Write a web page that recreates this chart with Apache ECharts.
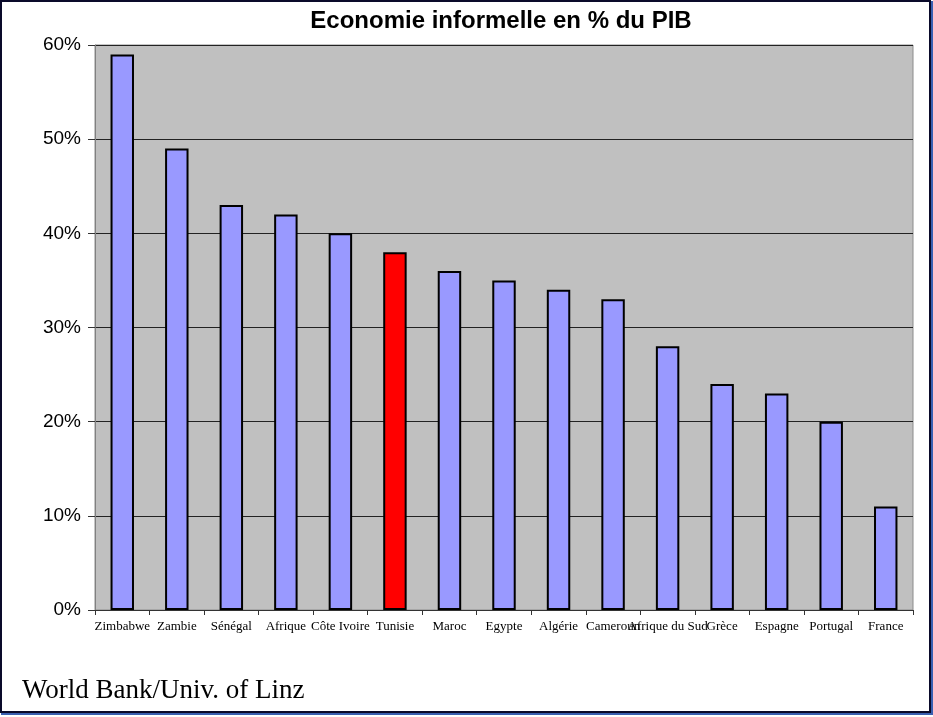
<!DOCTYPE html>
<html>
<head>
<meta charset="utf-8">
<script src="https://cdn.jsdelivr.net/npm/echarts@6/dist/echarts.min.js"></script>
<style>
  html, body { margin: 0; padding: 0; background: #fff; }
  #chart { width: 933px; height: 717px; }
</style>
</head>
<body>
<div id="chart"></div>
<script>
// pays, dans l'ordre du graphique
const countries = ['Zimbabwe', 'Zambie', 'Sénégal', 'Afrique', 'Côte Ivoire', 'Tunisie', 'Maroc',
    'Egypte', 'Algérie', 'Cameroun', 'Afrique du Sud', 'Grèce', 'Espagne', 'Portugal', 'France'];
// économie informelle en % du PIB
const shares = [59, 49, 43, 42, 40, 38, 36, 35, 34, 33, 28, 24, 23, 20, 11];
const highlighted = 'Tunisie';
const yTicks = [0, 10, 20, 30, 40, 50, 60];

let chart = echarts.init(document.getElementById('chart'));

let option = {
    animation: false,
    backgroundColor: '#fff',
    title: {
        text: 'Economie informelle en % du PIB',
        left: 496,
        top: 4,
        textAlign: 'center',
        textStyle: {
            fontFamily: 'Liberation Sans',
            fontWeight: 'bold',
            fontSize: 24,
            color: '#000'
        }
    },
    grid: {
        left: 95,
        right: 20,
        top: 45,
        bottom: 107,
        show: true,
        backgroundColor: '#c0c0c0',
        borderColor: '#8c8c8c',
        borderWidth: 1
    },
    xAxis: {
        type: 'category',
        data: countries,
        axisLine: {lineStyle: {color: '#333', width: 1}},
        axisTick: {show: true, alignWithLabel: false, length: 5, lineStyle: {color: '#333'}},
        axisLabel: {
            interval: 0,
            hideOverlap: false,
            fontFamily: 'Liberation Serif',
            fontSize: 13,
            color: '#000',
            margin: 10
        }
    },
    yAxis: {
        type: 'value',
        min: yTicks[0],
        max: yTicks[yTicks.length - 1],
        interval: 10,
        axisLine: {show: true, lineStyle: {color: '#808080'}},
        axisTick: {show: true, length: 7, lineStyle: {color: '#333'}},
        axisLabel: {
            formatter: '{value}%',
            fontFamily: 'Liberation Sans',
            fontSize: 19,
            color: '#000',
            margin: 14
        },
        splitLine: {lineStyle: {color: '#222', width: 1}}
    },
    series: [{
        type: 'bar',
        barWidth: '43%',
        data: shares.map(function (v, i) {
            return {
                value: v,
                itemStyle: {color: countries[i] === highlighted ? '#ff0000' : '#9999ff'}
            };
        }),
        itemStyle: {borderColor: '#000', borderWidth: 2}
    }],
    graphic: [
        {
            type: 'rect',
            shape: {x: 1, y: 1, width: 929, height: 711},
            style: {fill: 'none', stroke: '#0a0a2a', lineWidth: 2},
            silent: true
        },
        {
            type: 'line',
            shape: {x1: 1, y1: 714, x2: 931, y2: 714},
            style: {stroke: '#3a5fb0', lineWidth: 2}
        },
        {
            type: 'line',
            shape: {x1: 932, y1: 1, x2: 932, y2: 715},
            style: {stroke: '#3a5fb0', lineWidth: 2}
        },
        {
            type: 'text',
            left: 22,
            top: 677,
            style: {
                text: 'World Bank/Univ. of Linz',
                font: '27px "Liberation Serif"',
                fill: '#000'
            }
        }
    ]
};

chart.setOption(option);
</script>
</body>
</html>
